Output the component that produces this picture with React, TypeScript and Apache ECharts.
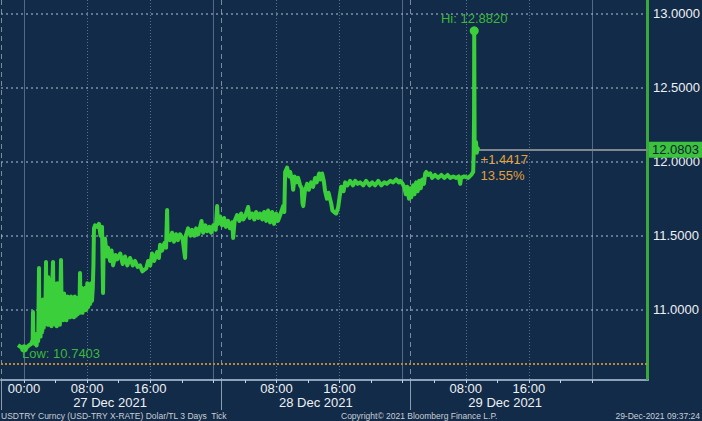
import React, { useEffect, useRef } from 'react';
import * as echarts from 'echarts';

// hours since 27 Dec 2021 00:00
const hours = [
  -0.76, -0.4, 0.0, 0.3, 0.6, 0.9, 1.1, 1.14, 1.2, 1.3, 1.4, 1.5, 1.6, 1.7, 1.8, 1.9, 1.95, 2.03, 2.1, 2.2,
  2.3, 2.4, 2.5, 2.6, 2.7, 2.79, 2.85, 2.92, 3.0, 3.08, 3.16, 3.24, 3.32, 3.4, 3.48, 3.56, 3.68, 3.75, 3.85, 3.95,
  4.05, 4.15, 4.25, 4.35, 4.45, 4.55, 4.69, 4.78, 4.88, 4.98, 5.08, 5.18, 5.28, 5.38, 5.5, 5.6, 5.72, 5.84, 5.96, 6.08,
  6.2, 6.32, 6.44, 6.56, 6.68, 6.8, 6.92, 7.02, 7.1, 7.18, 7.3, 7.42, 7.54, 7.66, 7.78, 7.9, 8.02, 8.14, 8.26, 8.38,
  8.5, 8.62, 8.72, 8.8, 8.87, 9.0, 9.26, 9.5, 9.7, 9.89, 10.02, 10.1, 10.27, 10.5, 10.65, 10.91, 11.1, 11.29, 11.6, 11.79,
  12.2, 12.5, 12.8, 13.1, 13.44, 13.8, 14.08, 14.4, 14.71, 15.0, 15.22, 15.5, 15.73, 16.0, 16.23, 16.5, 16.87, 17.1, 17.25, 17.5,
  17.8, 18.01, 18.14, 18.2, 18.5, 18.77, 19.0, 19.28, 19.5, 19.78, 20.1, 20.42, 20.5, 20.8, 21.1, 21.31, 21.6, 21.81, 22.1, 22.32,
  22.5, 22.7, 23.0, 23.21, 23.5, 23.72, 24.0, 24.3, 24.48, 24.6, 24.86, 25.1, 25.36, 25.6, 25.87, 26.1, 26.4, 26.51, 26.7, 27.01,
  27.3, 27.52, 27.8, 28.03, 28.41, 28.6, 28.92, 29.2, 29.42, 29.7, 29.93, 30.2, 30.44, 30.7, 30.94, 31.2, 31.45, 31.7, 31.96, 32.2,
  32.47, 32.85, 33.0, 33.1, 33.35, 33.6, 33.74, 34.0, 34.12, 34.3, 34.5, 34.75, 35.0, 35.2, 35.3, 35.4, 35.6, 35.89, 36.1, 36.4,
  36.65, 36.9, 37.1, 37.41, 37.6, 37.79, 38.0, 38.17, 38.4, 38.6, 38.93, 39.1, 39.31, 39.57, 39.82, 40.0, 40.2, 40.5, 40.71, 41.0,
  41.34, 41.7, 41.98, 42.3, 42.61, 43.0, 43.37, 43.8, 44.13, 44.5, 44.9, 45.3, 45.66, 46.0, 46.42, 46.8, 47.18, 47.5, 47.69, 48.0,
  48.19, 48.4, 48.57, 48.8, 48.95, 49.1, 49.33, 49.5, 49.71, 49.9, 50.1, 50.3, 50.48, 50.7, 50.86, 51.0, 51.24, 51.5, 51.74, 52.1,
  52.5, 52.9, 53.27, 53.7, 54.03, 54.4, 54.79, 55.1, 55.3, 55.4, 55.8, 56.31, 56.69, 56.94, 57.0, 57.05, 57.07, 57.12, 57.2, 57.3,
  57.4, 57.5, 57.62,
];
const prices = [
  10.763, 10.75, 10.7403, 10.745, 10.76, 10.77, 10.80, 10.986, 10.78, 10.84, 10.77, 10.83, 10.76, 10.84, 10.79, 11.283, 10.85, 11.0, 10.82, 11.05,
  10.85, 11.07, 10.88, 11.05, 10.95, 11.323, 10.95, 11.2, 10.9, 11.22, 10.9, 11.18, 10.92, 11.2, 10.89, 11.15, 11.323, 10.95, 11.18, 10.9,
  11.15, 10.89, 11.18, 10.92, 11.1, 10.9, 11.336, 10.95, 11.1, 10.93, 11.11, 10.94, 11.08, 10.93, 11.09, 10.95, 11.07, 10.95, 11.09, 10.96,
  11.08, 10.95, 11.09, 10.96, 11.08, 10.97, 11.06, 10.98, 11.249, 10.99, 11.15, 10.98, 11.13, 11.0, 11.15, 11.0, 11.18, 11.02, 11.17, 11.04,
  11.18, 11.06, 11.15, 11.3, 11.55, 11.57, 11.56, 11.58, 11.50, 11.56, 11.114, 11.45, 11.48, 11.36, 11.42, 11.33, 11.40, 11.30, 11.37, 11.34,
  11.38, 11.31, 11.36, 11.30, 11.35, 11.30, 11.33, 11.29, 11.30, 11.26, 11.27, 11.28, 11.33, 11.30, 11.38, 11.33, 11.39, 11.35, 11.44, 11.40,
  11.45, 11.42, 11.674, 11.50, 11.47, 11.52, 11.46, 11.51, 11.47, 11.51, 11.48, 11.35, 11.50, 11.55, 11.50, 11.54, 11.50, 11.55, 11.51, 11.56,
  11.60, 11.52, 11.57, 11.53, 11.56, 11.52, 11.57, 11.54, 11.70, 11.58, 11.63, 11.57, 11.62, 11.56, 11.60, 11.55, 11.59, 11.485, 11.60, 11.64,
  11.60, 11.65, 11.61, 11.63, 11.694, 11.62, 11.65, 11.61, 11.66, 11.62, 11.65, 11.61, 11.66, 11.60, 11.67, 11.59, 11.66, 11.58, 11.65, 11.60,
  11.64, 11.70, 11.66, 11.93, 11.96, 11.90, 11.93, 11.87, 11.81, 11.90, 11.86, 11.89, 11.84, 11.82, 11.72, 11.70, 11.80, 11.85, 11.81, 11.86,
  11.83, 11.89, 11.86, 11.92, 11.88, 11.92, 11.87, 11.80, 11.75, 11.79, 11.72, 11.67, 11.66, 11.65, 11.69, 11.76, 11.83, 11.80, 11.86, 11.84,
  11.87, 11.84, 11.87, 11.85, 11.86, 11.84, 11.87, 11.84, 11.86, 11.84, 11.87, 11.84, 11.86, 11.85, 11.87, 11.86, 11.88, 11.86, 11.87, 11.85,
  11.83, 11.78, 11.83, 11.75, 11.82, 11.76, 11.84, 11.78, 11.86, 11.80, 11.87, 11.82, 11.88, 11.85, 11.92, 11.93, 11.91, 11.92, 11.89, 11.91,
  11.89, 11.91, 11.89, 11.91, 11.89, 11.90, 11.89, 11.90, 11.85, 11.89, 11.90, 11.89, 11.91, 11.93, 12.05, 12.3, 12.882, 12.15, 12.10, 12.13,
  12.06, 12.09, 12.0803,
];
const prevClose = 10.6386;

const yLabelValues = [11, 11.5, 12, 12.5, 13];
const timeLabelHours = [0, 8, 16, 32, 40, 56, 64];
const xTickHours = [0, 4, 8, 12, 16, 20, 24, 28, 32, 36, 40, 44, 48, 52, 56, 60, 64, 68, 72];
const gridLineHours = [8, 16, 32, 40, 56, 64];
const midnightHours = [0, 24, 48, 72];
const sessionHours = [25, 49];
const dayLabelHours = [10.9, 37, 61];
const dayLabels = ['27 Dec 2021', '28 Dec 2021', '29 Dec 2021'];
const footerLeft = 'USDTRY Curncy (USD-TRY X-RATE) Dolar/TL 3 Days  Tick';
const footerCenter = 'Copyright\u00a9 2021 Bloomberg Finance L.P.';
const footerRight = '29-Dec-2021 09:37:24';

const X_MIN = -2.917;
const X_MAX = 79.1;
const Y_MIN = 10.5273;
const Y_MAX = 13.0897;

const FONT = '"Liberation Sans", Arial, sans-serif';
const GREEN = '#3ccf3c';
const TEXT = '#eef1f5';
const GRIDC = 'rgba(150,168,190,0.55)';

const hhmm = (h: number) => {
  const m = ((Math.round(h * 60) % 1440) + 1440) % 1440;
  const hh = Math.floor(m / 60);
  const mm = m % 60;
  return String(hh).padStart(2, '0') + ':' + String(mm).padStart(2, '0');
};

const hiddenX = () => ({
  type: 'value',
  min: X_MIN,
  max: X_MAX,
  position: 'bottom',
  axisLine: { show: false, onZero: false },
  axisLabel: { show: false },
});

export default function App() {
  const ref = useRef<HTMLDivElement>(null);
  useEffect(() => {
    if (!ref.current) return;
    const chart = echarts.init(ref.current, null, { renderer: 'svg' });
    const data = hours.map((h, i) => [h, prices[i]]);
    const last = prices[prices.length - 1];
    const lastH = hours[hours.length - 1];
    const chg = last - prevClose;
    const pct = (chg / prevClose) * 100;
    const gridLineItems = yLabelValues.map((v) => ({
      yAxis: v,
      lineStyle: { color: 'rgba(170,188,210,0.7)', type: [2, 3], width: 1.5 },
      label: { show: false },
    }));
    chart.setOption({
      animation: false,
      backgroundColor: '#122b48',
      textStyle: { fontFamily: FONT },
      grid: { left: 1, right: 54, top: 0, bottom: 41, outerBoundsMode: 'none' },
      xAxis: [
        {
          type: 'value',
          min: X_MIN,
          max: X_MAX,
          position: 'bottom',
          axisLine: { show: true, onZero: false, lineStyle: { color: '#8ea3bb', width: 2 } },
          axisTick: { show: true, customValues: xTickHours.slice(), length: 3, lineStyle: { color: '#c9d3de' } },
          axisLabel: {
            show: true,
            customValues: timeLabelHours.slice(),
            formatter: (v: number) => hhmm(v),
            color: TEXT,
            fontSize: 13,
            lineHeight: 13,
            fontFamily: FONT,
            margin: 2,
          },
          splitLine: { show: false },
        },
        {
          ...hiddenX(),
          axisTick: { show: false, customValues: gridLineHours.slice() },
          splitLine: { show: true, lineStyle: { color: GRIDC, type: [1, 2], width: 1 } },
        },
        {
          ...hiddenX(),
          axisTick: { show: false, customValues: midnightHours.slice() },
          splitLine: { show: true, lineStyle: { color: 'rgba(150,168,190,0.5)', type: 'solid', width: 1 } },
        },
        {
          type: 'value',
          min: X_MIN,
          max: X_MAX,
          position: 'bottom',
          axisLine: { show: false, onZero: false },
          axisTick: { show: true, customValues: [X_MIN, ...sessionHours], length: 30, lineStyle: { color: 'rgba(170,185,205,0.8)', width: 1 } },
          splitLine: { show: true, lineStyle: { color: 'rgba(165,180,200,0.7)', type: [5, 4], width: 1 } },
          axisLabel: {
            show: true,
            customValues: dayLabelHours.slice(),
            formatter: (v: number) => {
              const i = dayLabelHours.indexOf(v);
              return i >= 0 ? dayLabels[i] : '';
            },
            color: TEXT,
            fontSize: 13,
            lineHeight: 13,
            fontFamily: FONT,
            margin: 16,
          },
        },
      ],
      yAxis: [
        {
          type: 'value',
          min: Y_MIN,
          max: Y_MAX,
          position: 'right',
          axisLine: { show: true, onZero: false, lineStyle: { color: '#3aa83a', width: 1 } },
          axisTick: { show: false },
          axisLabel: {
            show: true,
            customValues: yLabelValues.slice(),
            formatter: (v: number) => v.toFixed(4),
            color: TEXT,
            fontSize: 13,
            fontFamily: FONT,
            margin: 5,
          },
          splitLine: { show: false },
        },
      ],
      series: [
        {
          type: 'line',
          z: 3,
          data,
          showSymbol: false,
          lineStyle: { color: GREEN, width: 4, join: 'round' },
          itemStyle: { color: GREEN },
          markLine: {
            silent: true,
            z: 1,
            symbol: ['none', 'none'],
            data: [
              ...gridLineItems,
              {
                xAxis: X_MAX - 0.12,
                lineStyle: { color: '#3aa83a', type: 'solid', width: 2 },
                label: { show: false },
              },
              {
                yAxis: prevClose,
                lineStyle: { color: '#b8893a', type: [2, 2], width: 2 },
                label: { show: false },
              },
              [
                {
                  coord: [lastH, last],
                  lineStyle: { color: '#80878f', type: 'solid', width: 2 },
                },
                {
                  coord: [X_MAX, last],
                  label: {
                    show: true,
                    position: 'end',
                    distance: 1,
                    formatter: () => last.toFixed(4),
                    backgroundColor: '#3cc23c',
                    color: '#0d2238',
                    fontSize: 13,
                    fontFamily: FONT,
                    padding: [2, 3, 1, 3],
                  },
                },
              ],
            ],
          },
          markPoint: {
            silent: true,
            data: [
              {
                type: 'max',
                symbol: 'circle',
                symbolSize: 9,
                itemStyle: { color: GREEN },
                label: {
                  show: true,
                  position: 'top',
                  distance: 1,
                  formatter: (p: any) => 'Hi: ' + Number(p.value).toFixed(4),
                  color: '#3cb83c',
                  fontSize: 13,
                  fontFamily: FONT,
                },
              },
              {
                type: 'min',
                symbol: 'circle',
                symbolSize: 8,
                itemStyle: { color: GREEN },
                label: {
                  show: true,
                  position: [2, 3],
                  formatter: (p: any) => 'Low: ' + Number(p.value).toFixed(4),
                  color: '#3cb83c',
                  fontSize: 13,
                  fontFamily: FONT,
                },
              },
              {
                coord: [lastH, last],
                symbol: 'circle',
                symbolSize: 0,
                label: {
                  show: true,
                  position: [2, 2],
                  formatter: () => '+' + chg.toFixed(4) + '\n' + pct.toFixed(2) + '%',
                  color: '#e3a03a',
                  fontSize: 13,
                  lineHeight: 16,
                  fontFamily: FONT,
                },
              },
            ],
          },
        },
      ],
      graphic: [
        {
          type: 'text',
          left: 1,
          top: 411,
          style: { text: footerLeft, fill: '#c9ced6', font: '8.5px ' + FONT },
        },
        {
          type: 'text',
          left: 341,
          top: 411,
          style: { text: footerCenter, fill: '#c9ced6', font: '8.5px ' + FONT },
        },
        {
          type: 'text',
          right: 2,
          top: 411,
          style: { text: footerRight, fill: '#c9ced6', font: '8.5px ' + FONT },
        },
      ],
    });
    return () => chart.dispose();
  }, []);
  return <div ref={ref} style={{ position: 'fixed', left: 0, top: 0, width: 702, height: 421 }} />;
}
